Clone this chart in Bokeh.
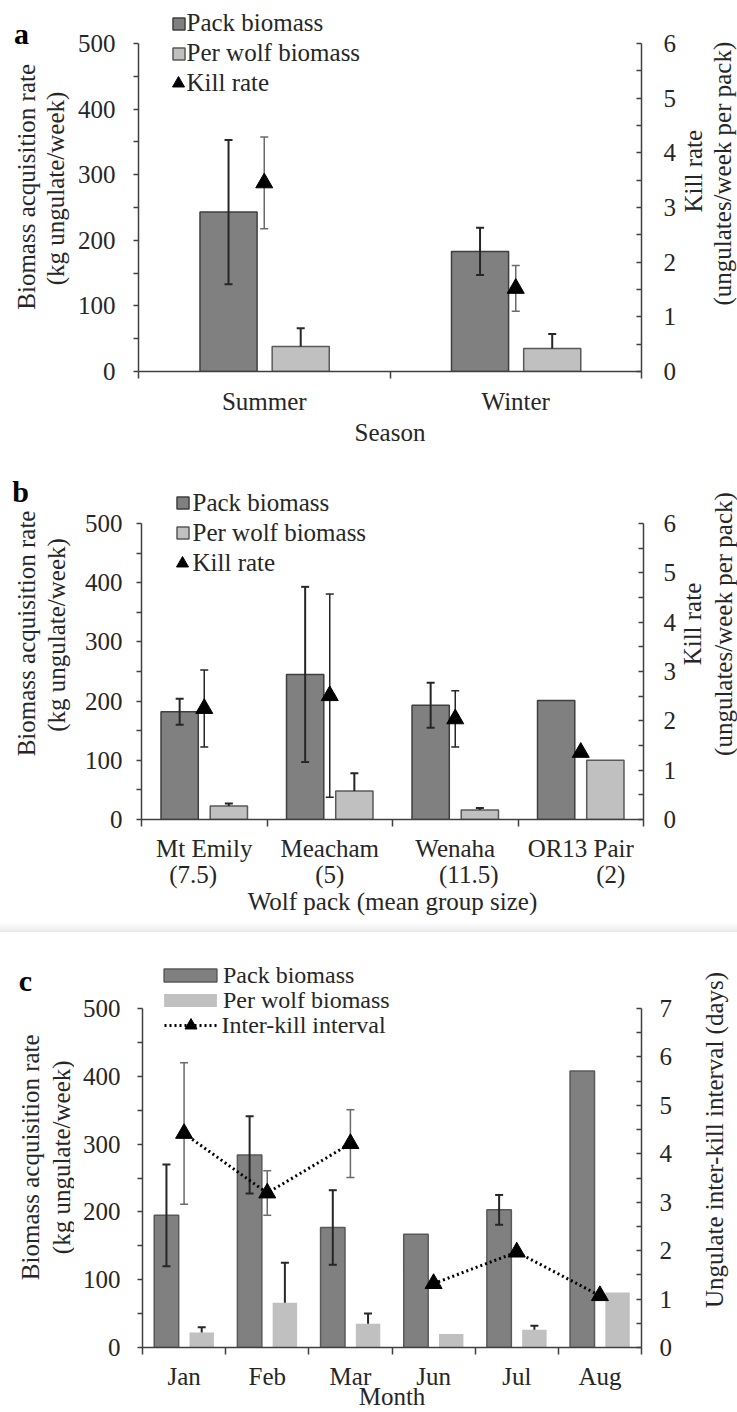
import math
import numpy as np
from bokeh.plotting import figure
from bokeh.models import (Range1d, LinearAxis, FixedTicker, Whisker, TeeHead,
                          ColumnDataSource, Legend, LegendItem, Label, Div)
from bokeh.layouts import column, row
from bokeh.embed import file_html
from bokeh.resources import INLINE

NaN = float("nan")

# ---------------- data ----------------
# panel a : by season
season = ["Summer", "Winter"]
season_pack = [243, 183]
season_pack_se = [110, 36]
season_wolf = [38, 35]
season_wolf_se = [28, 22]
season_kill = [3.45, 1.52]
season_kill_se = [0.84, 0.42]

# panel b : by wolf pack
packs = ["Mt Emily", "Meacham", "Wenaha", "OR13 Pair"]
pack_sizes = ["(7.5)", "(5)", "(11.5)", "(2)"]
packs_pack = [182, 245, 193, 201]
packs_pack_se = [22, 148, 38, NaN]
packs_wolf = [23, 48, 16, 100]
packs_wolf_se = [4, 30, 3.5, NaN]
packs_kill = [2.25, 2.51, 2.04, 1.36]
packs_kill_se = [0.78, 2.06, 0.57, NaN]

# panel c : by month
months = ["Jan", "Feb", "Mar", "Jun", "Jul", "Aug"]
month_numbers = [1, 2, 3, 6, 7, 8]
month_pack = [195, 284, 177, 167, 203, 408]
month_pack_se = [75, 57, 55, NaN, 22, NaN]
month_wolf = [22, 66, 35, 20, 26, 81]
month_wolf_se = [8, 59, 15, NaN, 6, NaN]
month_interval = [4.42, 3.19, 4.21, 1.32, 1.97, 1.07]
month_interval_se = [1.46, 0.46, 0.70, NaN, NaN, NaN]

left_ticks = [0, 100, 200, 300, 400, 500]

# ---------------- style ----------------
FONT = "Liberation Serif"
FS = "25px"
TXT = "#262626"
AX = "#404040"
PACK_FILL = "#808080"
PACK_LINE = "#3f3f3f"
WOLF_FILL = "#c0c0c0"
WOLF_LINE = "#595959"
ERR = "#262626"
KERR = "#6a6a6a"

PAGE_W = 737
LEFT_W = 74            # strip holding panel letter + left titles
RIGHT_X0 = 679         # strip holding right titles
MAIN_W = RIGHT_X0 - LEFT_W
RIGHT_W = PAGE_W - RIGHT_X0


def style_axis(ax, standoff):
    ax.axis_line_color = AX
    ax.axis_line_width = 1.5
    ax.major_tick_line_color = AX
    ax.minor_tick_line_color = AX
    ax.major_tick_line_width = 1.5
    ax.minor_tick_line_width = 1.5
    ax.major_label_text_font = FONT
    ax.major_label_text_font_size = FS
    ax.major_label_text_color = TXT
    ax.major_label_standoff = standoff
    ax.axis_label_text_font = FONT
    ax.axis_label_text_font_size = FS
    ax.axis_label_text_font_style = "normal"
    ax.axis_label_text_color = TXT


def strip(page_top, height, x0, width):
    s = figure(width=width, height=height, x_range=Range1d(x0, x0 + width),
               y_range=Range1d(page_top + height, page_top),
               x_axis_type=None, y_axis_type=None, min_border=0,
               outline_line_color=None, output_backend="svg",
               toolbar_location=None)
    s.grid.visible = False
    return s


def text(fig, x, y, t, vertical=False, bold=False, size=FS):
    fig.add_layout(Label(x=x, y=y, text=t, text_font=FONT, text_font_size=size,
                         text_font_style="bold" if bold else "normal",
                         text_color="black" if bold else TXT,
                         text_align="center", text_baseline="middle",
                         angle=math.pi / 2 if vertical else 0))


def panel(page_top, height, frame_left, frame_right, frame_bottom, y500,
          names, rmax, ls, rs, bs, xlabel, xlabel_standoff):
    n = len(names)
    frame_h = frame_bottom - page_top
    unit = (frame_bottom - y500) / 500.0
    ymax = frame_h / unit
    left = frame_left - LEFT_W
    right = RIGHT_X0 - frame_right
    p = figure(width=MAIN_W, height=height, x_range=Range1d(0.5, n + 0.5),
               y_range=Range1d(0, ymax), min_border_left=left,
               min_border_right=right, min_border_top=0,
               min_border_bottom=height - frame_h, output_backend="svg",
               toolbar_location=None, outline_line_color=None)
    p.extra_y_ranges = {"r": Range1d(0, ymax * rmax / 500.0)}
    p.grid.visible = False

    yl = p.yaxis[0]
    yl.bounds = (0, 500)
    yl.ticker = FixedTicker(ticks=left_ticks,
                            minor_ticks=[t + 50 for t in left_ticks[:-1]])
    yl.major_tick_out = 5
    yl.major_tick_in = 0
    yl.minor_tick_out = 5
    yl.minor_tick_in = 0
    style_axis(yl, ls)

    yr = LinearAxis(y_range_name="r", bounds=(0, rmax),
                    ticker=FixedTicker(ticks=list(range(rmax + 1)),
                                       minor_ticks=[i + 0.5 for i in range(rmax)]))
    yr.major_tick_out = 0
    yr.major_tick_in = 5
    yr.minor_tick_out = 0
    yr.minor_tick_in = 5
    style_axis(yr, rs)
    p.add_layout(yr, "right")

    xb = p.xaxis[0]
    xb.ticker = FixedTicker(ticks=list(range(1, n + 1)),
                            minor_ticks=[i + 0.5 for i in range(n + 1)])
    xb.major_label_overrides = {i + 1: nm for i, nm in enumerate(names)}
    xb.major_tick_out = 0
    xb.major_tick_in = 0
    xb.minor_tick_out = 7
    xb.minor_tick_in = 0
    style_axis(xb, bs)
    if xlabel:
        xb.axis_label = xlabel
        xb.axis_label_standoff = xlabel_standoff

    geo = dict(fl=frame_left, fr=frame_right, fb=frame_bottom, n=n)
    return p, geo


def bars(p, vals, off, width, fill, line):
    n = len(vals)
    src = ColumnDataSource(dict(x=np.arange(1, n + 1) + off, top=vals))
    return p.vbar(x="x", top="top", width=width, bottom=0, source=src,
                  fill_color=fill, line_color=line, line_width=1.5)


def errbars(p, off, vals, errs, color, width, both=True, rname=None, cap=8):
    vals = np.asarray(vals, float)
    errs = np.asarray(errs, float)
    x = np.arange(1, len(vals) + 1) + off
    m = ~np.isnan(errs)
    lower = vals[m] - errs[m] if both else vals[m]
    src = ColumnDataSource(dict(x=x[m], upper=vals[m] + errs[m], lower=lower))
    w = Whisker(source=src, base="x", upper="upper", lower="lower",
                line_color=color, line_width=width,
                upper_head=TeeHead(size=cap, line_color=color, line_width=width),
                lower_head=TeeHead(size=cap, line_color=color, line_width=width) if both else None,
                level="annotation")
    if rname:
        w.y_range_name = rname
    p.add_layout(w)


def legend(p, geo, items, page_left, page_bottom, gw, gh, standoff, fs=FS):
    lg = Legend(items=items, location=(page_left - geo["fl"], geo["fb"] - page_bottom),
                glyph_width=gw, glyph_height=gh, label_height=30,
                label_standoff=standoff, spacing=0, padding=0, margin=0,
                border_line_color=None, background_fill_alpha=0,
                label_text_font=FONT, label_text_font_size=fs,
                label_text_color=TXT)
    p.add_layout(lg)


def bar_kill_legend(p, geo, pack_r, wolf_r, kill_r, left, bottom, standoff):
    # texts + bar swatches; the small marker drawn here is covered by the big one below
    legend(p, geo, [LegendItem(label="Pack biomass", renderers=[pack_r]),
                    LegendItem(label="Per wolf biomass", renderers=[wolf_r]),
                    LegendItem(label="Kill rate", renderers=[kill_r])],
           left, bottom, 15, 15, standoff)
    # full-size triangle swatch for the kill-rate row
    legend(p, geo, [LegendItem(label=" ", renderers=[kill_r])],
           left - 7.5, bottom, 30, 30, 0)


# ---------------- panel a ----------------
pa, ga = panel(0, 450, 138, 643, 371, 43, season, 6, 18, 22, 9, "Season", 1)
a_pack = bars(pa, season_pack, -0.142, 0.227, PACK_FILL, PACK_LINE)
a_wolf = bars(pa, season_wolf, 0.145, 0.227, WOLF_FILL, WOLF_LINE)
errbars(pa, -0.142, season_pack, season_pack_se, ERR, 2)
errbars(pa, 0.145, season_wolf, season_wolf_se, ERR, 2, both=False)
errbars(pa, 0.0, season_kill, season_kill_se, KERR, 1.5, rname="r")
a_kill = pa.scatter(x=np.arange(1, 3), y=season_kill, y_range_name="r",
                    marker="triangle", size=17, color="black", level="overlay")
bar_kill_legend(pa, ga, a_pack, a_wolf, a_kill, 170.5, 98, 1)
la = strip(0, 450, 0, LEFT_W)
text(la, 21, 40, "a", bold=True, size="30px")
text(la, 26, 226, "Biomass acquisition rate", vertical=True)
text(la, 55, 228, "(kg ungulate/week)", vertical=True)
ra = strip(0, 450, RIGHT_X0, RIGHT_W)
text(ra, 693, 207, "Kill rate", vertical=True)
text(ra, 722, 210, "(ungulates/week per pack)", vertical=True)

# ---------------- panel b ----------------
pb, gb = panel(450, 472, 141, 643, 819, 523, packs, 6, 14, 20, 8, None, 0)
b_pack = bars(pb, packs_pack, -0.196, 0.297, PACK_FILL, PACK_LINE)
b_wolf = bars(pb, packs_wolf, 0.196, 0.297, WOLF_FILL, WOLF_LINE)
errbars(pb, -0.196, packs_pack, packs_pack_se, ERR, 2)
errbars(pb, 0.196, packs_wolf, packs_wolf_se, ERR, 2, both=False)
errbars(pb, 0.0, packs_kill, packs_kill_se, ERR, 1.5, rname="r")
b_kill = pb.scatter(x=np.arange(1, 5), y=packs_kill, y_range_name="r",
                    marker="triangle", size=17, color="black", level="overlay")
bar_kill_legend(pb, gb, b_pack, b_wolf, b_kill, 174.5, 577.5, 3)
# second line of the category labels: group sizes (slightly offset as in the original)
sub_offsets_px = [-11, 0, 13.5, 30]
cat_w = (gb["fr"] - gb["fl"]) / len(packs)
sub_ticks = [i + 1 + off / cat_w for i, off in enumerate(sub_offsets_px)]
xb2 = LinearAxis(ticker=FixedTicker(ticks=sub_ticks, minor_ticks=[]),
                 major_label_overrides={t: s for t, s in zip(sub_ticks, pack_sizes)})
style_axis(xb2, -4)
xb2.axis_line_color = None
xb2.major_tick_line_color = None
xb2.minor_tick_line_color = None
xb2.major_tick_out = 0
xb2.major_tick_in = 0
xb2.axis_label = "Wolf pack (mean group size)"
xb2.axis_label_standoff = -3
pb.add_layout(xb2, "below")
lb = strip(450, 472, 0, LEFT_W)
text(lb, 20, 503, "b", bold=True, size="30px")
text(lb, 26, 684, "Biomass acquisition rate", vertical=True)
text(lb, 56, 686, "(kg ungulate/week)", vertical=True)
rb = strip(450, 472, RIGHT_X0, RIGHT_W)
text(rb, 692, 672, "Kill rate", vertical=True)
text(rb, 723, 672, "(ungulates/week per pack)", vertical=True)

# ---------------- separator ----------------
band = Div(text="", width=PAGE_W, height=10, margin=0,
           styles={"background": "linear-gradient(to bottom, #ffffff, #ebebeb)"})

# ---------------- panel c ----------------
pc, gc = panel(932, 480, 142, 641, 1347, 1008, months, 7, 17, 18, 8, "Month", -10)
c_pack = bars(pc, month_pack, -0.212, 0.294, PACK_FILL, "#595959")
c_wolf = bars(pc, month_wolf, 0.212, 0.294, WOLF_FILL, None)
errbars(pc, -0.212, month_pack, month_pack_se, ERR, 2)
errbars(pc, 0.212, month_wolf, month_wolf_se, ERR, 2, both=False)
errbars(pc, 0.0, month_interval, month_interval_se, KERR, 1.5, rname="r")
# split the dotted line where months are not consecutive
segs, cur = [], [0]
for i in range(1, len(month_numbers)):
    if month_numbers[i] - month_numbers[i - 1] > 1:
        segs.append(cur)
        cur = []
    cur.append(i)
segs.append(cur)
c_line = pc.multi_line(xs=[[i + 1 for i in s] for s in segs],
                       ys=[[month_interval[i] for i in s] for s in segs],
                       y_range_name="r", line_color="black", line_width=3,
                       line_dash="2 3", level="overlay")
c_kill = pc.scatter(x=np.arange(1, 7), y=month_interval, y_range_name="r",
                    marker="triangle", size=17, color="black", level="overlay")
legend(pc, gc, [LegendItem(label="Pack biomass", renderers=[c_pack])],
       157, 990, 66, 16, 0, "24px")
legend(pc, gc, [LegendItem(label="Per wolf biomass", renderers=[c_wolf])],
       157, 1015, 66, 16, 0, "24px")
legend(pc, gc, [LegendItem(label="Inter-kill interval", renderers=[c_line, c_kill])],
       163.5, 1040, 53, 30, 5, "24px")
lc = strip(932, 480, 0, LEFT_W)
text(lc, 25, 987, "c", bold=True, size="30px")
text(lc, 30, 1192, "Biomass acquisition rate", vertical=True)
text(lc, 61, 1192, "(kg ungulate/week)", vertical=True)
rc = strip(932, 480, RIGHT_X0, RIGHT_W)
text(rc, 714, 1172, "Ungulate inter-kill interval (days)", vertical=True)

layout = column(row(la, pa, ra, spacing=0),
                row(lb, pb, rb, spacing=0),
                band,
                row(lc, pc, rc, spacing=0), spacing=0)
open("out.html", "w").write(file_html(layout, INLINE, title="Wolf biomass acquisition"))
